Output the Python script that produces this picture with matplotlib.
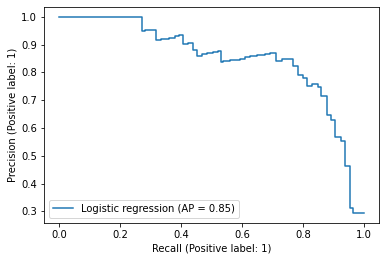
import matplotlib
matplotlib.use("Agg")
import matplotlib.pyplot as plt

recall = [0.0, 0.272, 0.282, 0.318, 0.333, 0.361, 0.380, 0.392, 0.407, 0.422,
          0.438, 0.453, 0.468, 0.484, 0.506, 0.521, 0.531, 0.539, 0.561, 0.593,
          0.610, 0.626, 0.648, 0.675, 0.692, 0.711, 0.730, 0.769, 0.785, 0.801,
          0.814, 0.831, 0.850, 0.861, 0.878, 0.891, 0.907, 0.924, 0.938, 0.954,
          0.965, 1.0]
precision = [1.0, 0.948, 0.953, 0.916, 0.921, 0.925, 0.930, 0.934, 0.902, 0.907,
             0.880, 0.860, 0.865, 0.870, 0.874, 0.878, 0.836, 0.842, 0.846, 0.849,
             0.854, 0.859, 0.862, 0.866, 0.871, 0.842, 0.847, 0.825, 0.790, 0.781,
             0.752, 0.757, 0.747, 0.717, 0.648, 0.630, 0.568, 0.555, 0.465, 0.314,
             0.294, 0.294]
label = "Logistic regression (AP = 0.85)"

fig = plt.figure(figsize=(386 / 72, 262 / 72), dpi=72)
ax = fig.add_axes([0.114, 0.149, 0.868, 0.824])
ax.plot(recall, precision, drawstyle="steps-post", label=label)
ax.set_xlabel("Recall (Positive label: 1)")
ax.set_ylabel("Precision (Positive label: 1)")
ax.legend(loc="lower left")
fig.savefig("out.png", dpi=72)
